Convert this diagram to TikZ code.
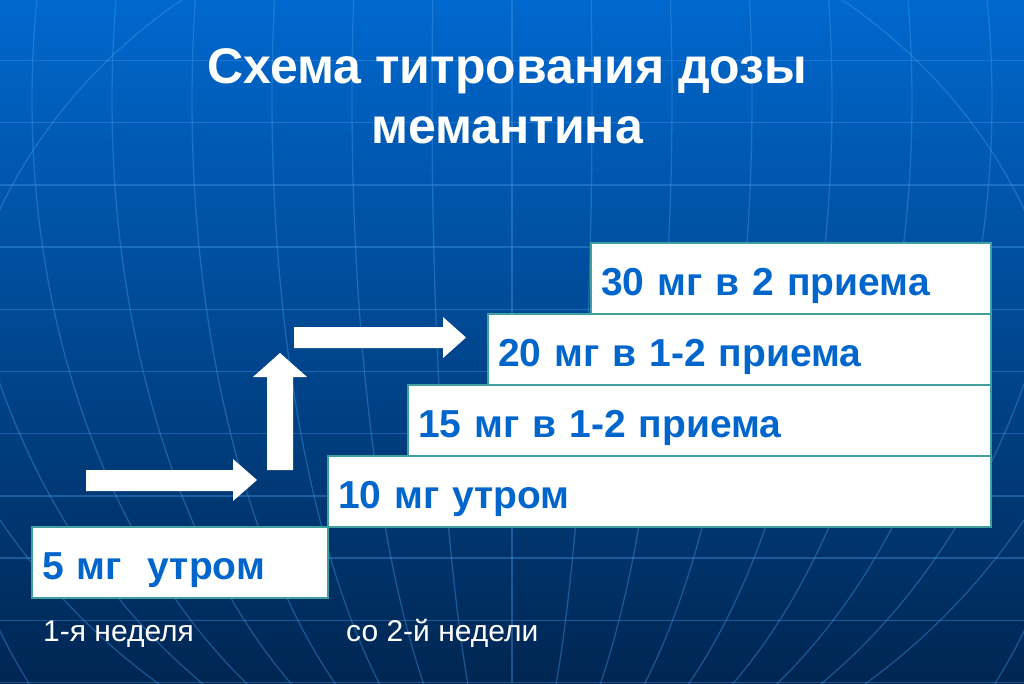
\documentclass[tikz,border=0pt]{standalone}
\usepackage{fontspec}
\setmainfont{Liberation Sans}
\usetikzlibrary{positioning}

\definecolor{bgtop}{RGB}{0,104,206}
\definecolor{bgmid}{RGB}{0,72,155}
\definecolor{bgbot}{RGB}{0,38,82}
\definecolor{gridblue}{RGB}{70,150,230}
\definecolor{boxteal}{RGB}{64,160,160}
\definecolor{doseblue}{RGB}{0,102,204}

\begin{document}
\begin{tikzpicture}[x=1pt,y=-1pt,
    gridline/.style={gridblue,line width=1.3pt,opacity=0.4},
    dose/.style={draw=boxteal,fill=white,line width=2.5pt,outer sep=0pt,
      minimum height=71pt,inner xsep=10pt,align=left,text=doseblue,
      font=\fontsize{39}{45}\selectfont\bfseries,text height=40pt,text depth=7pt},
    week/.style={text=white,anchor=base west,inner sep=0pt,font=\fontsize{30}{34}\selectfont},
    blk/.style={fill=white}]
  \useasboundingbox (0,0) rectangle (1024,683);
  \shade[top color=bgtop,middle color=bgmid,bottom color=bgbot] (0,0) rectangle (1024,683);

  % globe lines
  \begin{scope}
    \clip (0,0) rectangle (1024,683);
    \foreach \k in {0,...,10}
      \draw[gridline] (0,60.5+62.2*\k) -- (1024,60.5+62.2*\k);
    \draw[gridline] (512,0) -- (512,683);
    \foreach \r in {80,160,...,640}
      \draw[gridline] (512,100) ellipse [x radius=\r pt,y radius=700pt];
    \draw[gridline] (512,420) ellipse [x radius=560pt,y radius=520pt];
  \end{scope}

  \node[text=white,anchor=base,font=\fontsize{50}{60}\selectfont\bfseries] (title1) at (507.5,83) {Схема титрования дозы};
  \node[text=white,anchor=base,font=\fontsize{50}{60}\selectfont\bfseries] (title2) at (507,143) {мемантина};

  \node[dose,anchor=north west,text width=276pt] (d5) at (32,527) {5 мг~~утром};
  \node[dose,anchor=south west,text width=643pt] (d10) at (d5.north east) {10 мг утром};
  \node[dose,anchor=south west,text width=563pt] (d15) at ([xshift=80pt]d10.north west) {15 мг в 1-2 приема};
  \node[dose,anchor=south west,text width=483pt] (d20) at ([xshift=80pt]d15.north west) {20 мг в 1-2 приема};
  \node[dose,anchor=south west,text width=380pt] (d30) at ([xshift=103pt]d20.north west) {30 мг в 2 приема};

  \fill[blk] (86,470) -- (233,470) -- (233,459) -- (257,480) -- (233,501) -- (233,491) -- (86,491) -- cycle;
  \fill[blk] (267,470) -- (267,377) -- (253,377) -- (280,353) -- (307,377) -- (293,377) -- (293,470) -- cycle;
  \fill[blk] (294,327) -- (443,327) -- (443,317) -- (466,337.5) -- (443,358) -- (443,348) -- (294,348) -- cycle;

  \node[week] (w1) at (43,641) {1-я неделя};
  \node[week] (w2) at (346,641) {со 2-й недели};
\end{tikzpicture}
\end{document}
